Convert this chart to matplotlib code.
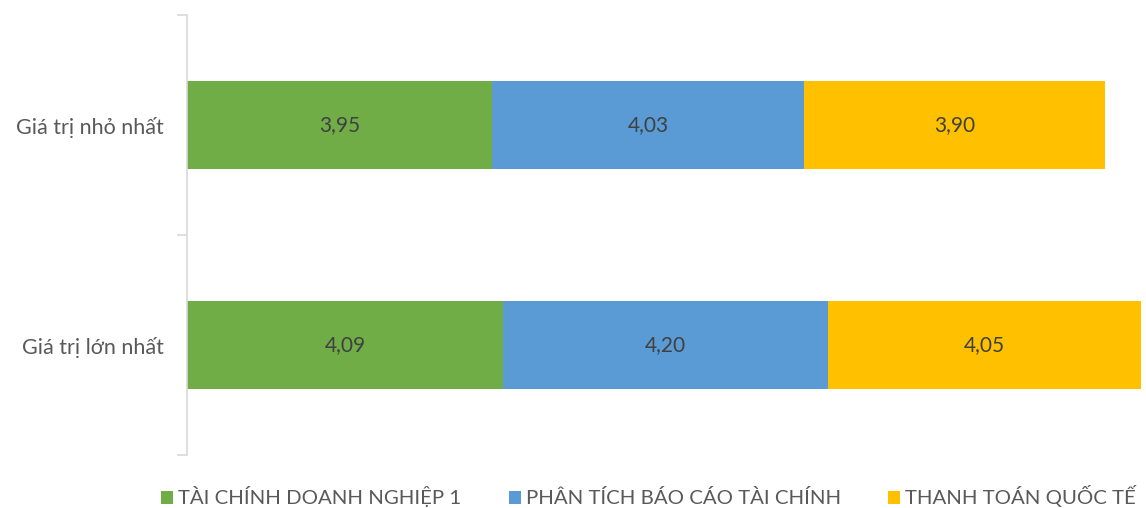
import numpy as np
import matplotlib.pyplot as plt

plt.rcParams['font.family'] = ['Lato', 'DejaVu Sans']

categories = ['Giá trị nhỏ nhất', 'Giá trị lớn nhất']
series_names = ['TÀI CHÍNH DOANH NGHIỆP 1', 'PHÂN TÍCH BÁO CÁO TÀI CHÍNH', 'THANH TOÁN QUỐC TẾ']
tcdn = [3.95, 4.09]
ptbctc = [4.03, 4.20]
ttqt = [3.90, 4.05]
colors = ['#70AD47', '#5B9BD5', '#FFC000']

fig = plt.figure(figsize=(11.46, 5.08), dpi=100)
ax = fig.add_axes([187/1146, 53/508, (1141-187)/1146, 440/508])

y = np.arange(len(categories))
left = np.zeros(len(categories))
for vals, name, c in zip([tcdn, ptbctc, ttqt], series_names, colors):
    bars = ax.barh(y, vals, left=left, height=0.4, color=c, label=name)
    for b, v in zip(bars, vals):
        ax.text(b.get_x() + b.get_width()/2, b.get_y() + b.get_height()/2,
                ('%.2f' % v).replace('.', ','), ha='center', va='center',
                fontsize=15, color='#404040')
    left += np.array(vals)

ax.set_xlim(0, left.max())
ax.set_ylim(1.5, -0.5)
ax.set_yticks(y)
ax.set_yticklabels(categories, fontsize=15.5, color='#595959')
ax.tick_params(axis='y', which='major', length=0, pad=17)
ax.set_yticks([-0.5, 0.5, 1.5], minor=True)
ax.tick_params(axis='y', which='minor', length=7, color='#D9D9D9', width=1.2)
ax.set_xticks([])
for s in ['top', 'right', 'bottom']:
    ax.spines[s].set_visible(False)
ax.spines['left'].set_color('#D9D9D9')
ax.spines['left'].set_linewidth(1.2)

leg = fig.legend(loc='lower center', ncol=3, frameon=False, fontsize=14.7,
                 bbox_to_anchor=(0.566, -0.035), handlelength=0.6, handleheight=0.6,
                 handletextpad=0.25, columnspacing=2.3, labelcolor='#595959')

fig.savefig('out.png', dpi=100)
